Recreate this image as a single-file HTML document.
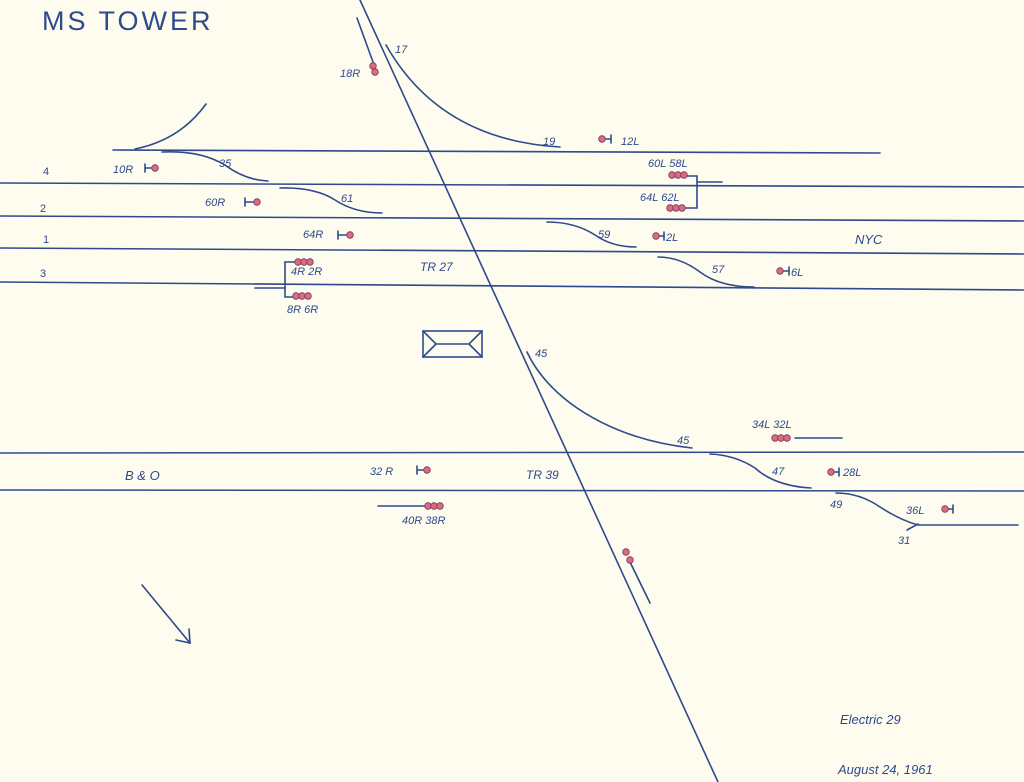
<!DOCTYPE html>
<html><head><meta charset="utf-8"><style>
html,body{margin:0;padding:0;background:#fdfcef;}
svg{display:block}
text{font-family:"Liberation Sans",sans-serif;fill:#2f4a8c;font-style:italic}
</style></head><body>
<svg width="1024" height="782" viewBox="0 0 1024 782" xmlns="http://www.w3.org/2000/svg">
<rect width="1024" height="782" fill="#fdfcef"/>
<g stroke="#2f4a8c" stroke-width="1.6" fill="none" stroke-linecap="round">
<line x1="113" y1="150" x2="880" y2="153"/>
<line x1="0" y1="183" x2="1024" y2="187"/>
<line x1="0" y1="216" x2="1024" y2="221"/>
<line x1="0" y1="248" x2="1024" y2="254"/>
<line x1="0" y1="282" x2="1024" y2="290"/>
<line x1="0" y1="453" x2="1024" y2="452"/>
<line x1="0" y1="490" x2="1024" y2="491"/>
<line x1="360" y1="0" x2="718" y2="782"/>
<path d="M135 149 Q180 140 206 104"/>
<path d="M386 45 Q440 140 560 147"/>
<path d="M162 152 Q200 150 225 165 Q245 180 268 181"/>
<path d="M280 188 Q315 187 335 200 Q355 213 382 213"/>
<path d="M547 222 Q575 222 595 235 Q612 247 636 247"/>
<path d="M658 257 Q680 257 700 272 Q720 287 754 287"/>
<path d="M527 352 Q540 380 570 403 Q620 440 692 448"/>
<path d="M710 454 Q735 455 755 468 Q775 486 811 488"/>
<path d="M836 493 Q860 493 880 507 Q900 520 918 525 L1018 525"/>
<path d="M918 524 L907 530"/>
<line x1="357" y1="18" x2="373" y2="62"/>
<line x1="630" y1="562" x2="650" y2="603"/>
<line x1="795" y1="438" x2="842" y2="438"/>
<line x1="378" y1="506" x2="426" y2="506"/>
<path d="M297 262 L285 262 L285 297 L297 297"/>
<line x1="255" y1="288" x2="285" y2="288"/>
<path d="M684 176 L697 176 L697 208 L684 208"/>
<line x1="697" y1="182" x2="722" y2="182"/>
<path d="M145 164 L145 172 M145 168 L153 168"/>
<path d="M245 198 L245 206 M245 202 L255 202"/>
<path d="M338 231 L338 239 M338 235 L348 235"/>
<path d="M417 466 L417 474 M417 470 L425 470"/>
<path d="M603 139 L611 139 M611 135 L611 143"/>
<path d="M656 236 L664 236 M664 232 L664 240"/>
<path d="M781 271 L789 271 M789 267 L789 275"/>
<path d="M831 472 L839 472 M839 468 L839 476"/>
<path d="M945 509 L953 509 M953 505 L953 513"/>
<rect x="423" y="331" width="59" height="26"/>
<path d="M423 331 L436 344 L469 344 L482 331 M423 357 L436 344 M469 344 L482 357"/>
<line x1="142" y1="585" x2="190" y2="643"/>
<path d="M176 640 L190 643 L189 629"/>
</g>
<g fill="#e0697a" stroke="#6a3a6a" stroke-width="0.8">
<circle cx="373" cy="66" r="3.3"/><circle cx="375" cy="72" r="3.3"/>
<circle cx="155" cy="168" r="3.3"/><circle cx="257" cy="202" r="3.3"/>
<circle cx="350" cy="235" r="3.3"/><circle cx="427" cy="470" r="3.3"/>
<circle cx="602" cy="139" r="3.3"/><circle cx="656" cy="236" r="3.3"/>
<circle cx="780" cy="271" r="3.3"/><circle cx="831" cy="472" r="3.3"/>
<circle cx="945" cy="509" r="3.3"/>
<circle cx="626" cy="552" r="3.3"/><circle cx="630" cy="560" r="3.3"/>
<circle cx="298" cy="262" r="3.3"/><circle cx="304" cy="262" r="3.3"/><circle cx="310" cy="262" r="3.3"/>
<circle cx="296" cy="296" r="3.3"/><circle cx="302" cy="296" r="3.3"/><circle cx="308" cy="296" r="3.3"/>
<circle cx="672" cy="175" r="3.3"/><circle cx="678" cy="175" r="3.3"/><circle cx="684" cy="175" r="3.3"/>
<circle cx="670" cy="208" r="3.3"/><circle cx="676" cy="208" r="3.3"/><circle cx="682" cy="208" r="3.3"/>
<circle cx="775" cy="438" r="3.3"/><circle cx="781" cy="438" r="3.3"/><circle cx="787" cy="438" r="3.3"/>
<circle cx="428" cy="506" r="3.3"/><circle cx="434" cy="506" r="3.3"/><circle cx="440" cy="506" r="3.3"/>
</g>
<g font-size="11">
<text x="42" y="30" font-size="27" style="font-style:normal;letter-spacing:3px">MS  TOWER</text>
<text x="395" y="53">17</text>
<text x="340" y="77">18R</text>
<text x="543" y="145">19</text>
<text x="621" y="145">12L</text>
<text x="113" y="173">10R</text>
<text x="219" y="167">35</text>
<text x="43" y="175" style="font-style:normal">4</text>
<text x="205" y="206">60R</text>
<text x="341" y="202">61</text>
<text x="40" y="212" style="font-style:normal">2</text>
<text x="303" y="238">64R</text>
<text x="43" y="243" style="font-style:normal">1</text>
<text x="40" y="277" style="font-style:normal">3</text>
<text x="291" y="275">4R 2R</text>
<text x="287" y="313">8R 6R</text>
<text x="420" y="271" font-size="12">TR 27</text>
<text x="648" y="167">60L 58L</text>
<text x="640" y="201">64L 62L</text>
<text x="598" y="238">59</text>
<text x="666" y="241">2L</text>
<text x="855" y="244" font-size="13">NYC</text>
<text x="712" y="273">57</text>
<text x="791" y="276">6L</text>
<text x="535" y="357">45</text>
<text x="677" y="444">45</text>
<text x="752" y="428">34L 32L</text>
<text x="125" y="480" font-size="13">B &amp; O</text>
<text x="370" y="475">32 R</text>
<text x="526" y="479" font-size="12">TR 39</text>
<text x="772" y="475">47</text>
<text x="843" y="476">28L</text>
<text x="830" y="508">49</text>
<text x="906" y="514">36L</text>
<text x="898" y="544">31</text>
<text x="402" y="524">40R 38R</text>
<text x="840" y="724" font-size="13">Electric 29</text>
<text x="838" y="774" font-size="13">August 24, 1961</text>
</g>
</svg>
</body></html>
